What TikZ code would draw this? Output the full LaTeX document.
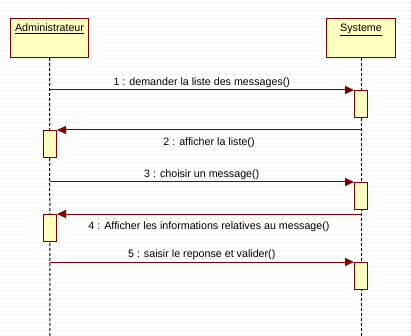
\documentclass[tikz,border=0pt]{standalone}
\usepackage{fontspec}
\setmainfont{Liberation Sans}
\usetikzlibrary{arrows.meta}
\definecolor{bordeaux}{RGB}{128,0,0}
\definecolor{jaune}{RGB}{255,255,192}
\tikzstyle{objet} = [rectangle, draw=bordeaux, fill=jaune, line width=1pt, minimum width=78pt, minimum height=39pt, anchor=north west]
\tikzstyle{activation} = [rectangle, draw=bordeaux, fill=jaune, line width=1pt, minimum width=13pt, minimum height=27pt, inner sep=0pt, anchor=north]
\tikzstyle{vie} = [black, line width=1pt, dash pattern=on 3pt off 2pt]
\tikzstyle{message} = [bordeaux, line width=1pt, -{Triangle[length=9pt,width=8pt]}]
\tikzstyle{texte} = [black, inner sep=2pt]

\begin{document}
\begin{tikzpicture}[x=1pt, y=-1pt, font=\fontsize{10.7}{13}\selectfont]
	\useasboundingbox (0,0) rectangle (411,336);
	\fill[white] (0,0) rectangle (411,336);
	% grille de points
	\foreach \x in {2,10,...,410}
		\foreach \y in {2,10,...,334}
			\fill[gray!45] (\x,\y) rectangle ++(1,1);
	% objets
	\node (admin) at (10,18) [objet] {};
	\node (sys) at (326,18) [objet, minimum width=69pt] {};
	\node (nomA) at (admin.north) [texte, anchor=north, yshift=-4pt] {\underline{Administrateur}};
	\node (nomS) at (sys.north) [texte, anchor=north, yshift=-4pt] {\underline{Systeme}};
	\coordinate (finA) at (50,336);
	\coordinate (finS) at (361,336);
	\draw[vie] (admin.south) -- (finA);
	\draw[vie] (sys.south) -- (finS);
	% activations
	\node (act1) at (361,90) [activation] {};
	\node (act2) at (50,130) [activation] {};
	\node (act3) at (361,182) [activation] {};
	\node (act4) at (50,214) [activation] {};
	\node (act5) at (361,262) [activation] {};
	% messages
	\draw[message] (admin.south |- act1.north) -- (act1.north west) node[midway,above,texte] {1 : demander la liste des messages()};
	\draw[message] (sys.south |- act2.north) -- (act2.north east) node[midway,below,texte,yshift=-5pt] {2 : afficher la liste()};
	\draw[message] (admin.south |- act3.north) -- (act3.north west) node[midway,above,texte] {3 : choisir un message()};
	\draw[message] (sys.south |- act4.north) -- (act4.north east) node[midway,below,texte,yshift=-5pt] {4 : Afficher les informations relatives au message()};
	\draw[message] (admin.south |- act5.north) -- (act5.north west) node[midway,above,texte] {5 : saisir le reponse et valider()};
\end{tikzpicture}
\end{document}
